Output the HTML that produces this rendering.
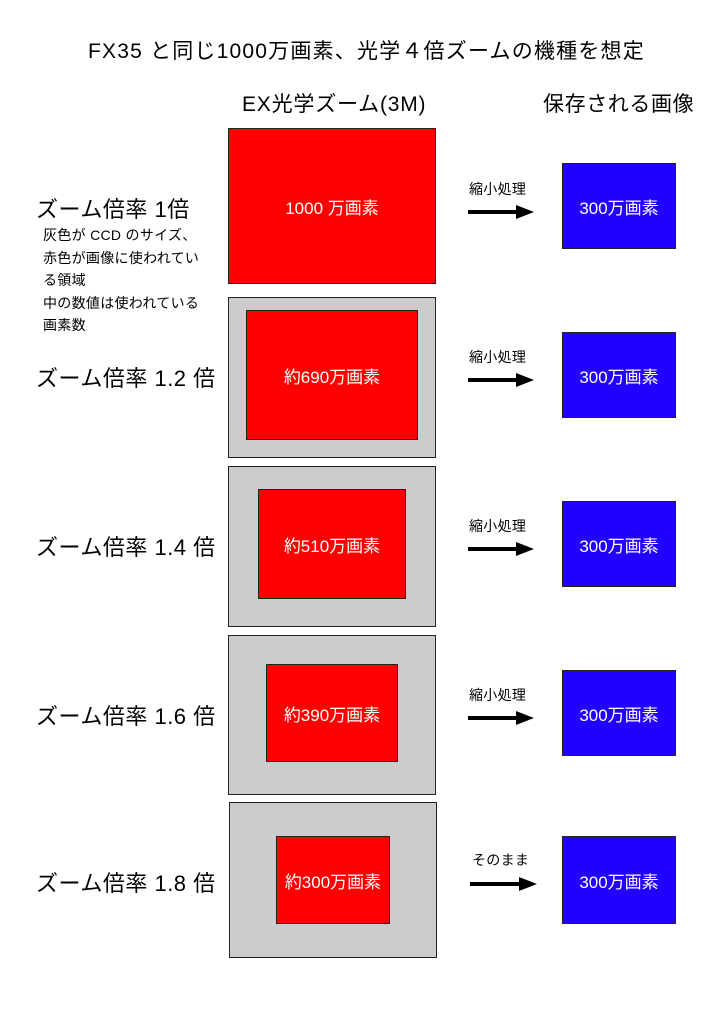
<!DOCTYPE html>
<html><head><meta charset="utf-8"><style>
body{margin:0;width:724px;height:1024px;background:#fff;position:relative;font-family:"Liberation Sans","Noto Sans CJK JP",sans-serif;overflow:hidden}
.a{position:absolute;white-space:nowrap}
.box{position:absolute;box-sizing:border-box;border:1.5px solid #222}
.g{background:#ccc}
.r{background:#f00;color:#fff;display:flex;align-items:center;justify-content:center;font-size:17px}
.b{background:#20f;color:#fff;display:flex;align-items:center;justify-content:center;font-size:17px}
.z{font-size:22px;color:#000;letter-spacing:0.5px}
.s{font-size:14px;letter-spacing:0.3px}
.line{position:absolute;height:4px;background:#000}
.head{position:absolute;width:0;height:0;border-top:7px solid transparent;border-bottom:7px solid transparent;border-left:18px solid #000}
</style></head><body>
<div class="a" style="left:88px;top:35px;font-size:21px;letter-spacing:1.2px">FX35 と同じ1000万画素、光学４倍ズームの機種を想定</div>
<div class="a" style="left:242px;top:88px;font-size:21px;letter-spacing:0.8px">EX光学ズーム(3M)</div>
<div class="a" style="left:543px;top:88px;font-size:21px;letter-spacing:0.6px">保存される画像</div>

<div class="box r" style="left:228px;top:128px;width:208px;height:156px">1000 万画素</div>
<div class="box b" style="left:562px;top:163px;width:114px;height:86px">300万画素</div>
<div class="a z" style="left:36px;top:192px">ズーム倍率 1倍</div>
<div class="a s" style="left:43px;top:224px;line-height:22.5px">灰色が CCD のサイズ、<br>赤色が画像に使われてい<br>る領域<br>中の数値は使われている<br>画素数</div>
<div class="a s" style="left:469px;top:179px">縮小処理</div>
<div class="line" style="left:468px;top:210px;width:50px"></div><div class="head" style="left:516px;top:205px"></div>

<div class="box g" style="left:228px;top:297px;width:208px;height:161px"></div>
<div class="box r" style="left:246px;top:310px;width:172px;height:130px">約690万画素</div>
<div class="box b" style="left:562px;top:332px;width:114px;height:86px">300万画素</div>
<div class="a z" style="left:36px;top:361px">ズーム倍率 1.2 倍</div>
<div class="a s" style="left:469px;top:347px">縮小処理</div>
<div class="line" style="left:468px;top:378px;width:50px"></div><div class="head" style="left:516px;top:373px"></div>

<div class="box g" style="left:228px;top:466px;width:208px;height:161px"></div>
<div class="box r" style="left:258px;top:489px;width:148px;height:110px">約510万画素</div>
<div class="box b" style="left:562px;top:501px;width:114px;height:86px">300万画素</div>
<div class="a z" style="left:36px;top:530px">ズーム倍率 1.4 倍</div>
<div class="a s" style="left:469px;top:516px">縮小処理</div>
<div class="line" style="left:468px;top:547px;width:50px"></div><div class="head" style="left:516px;top:542px"></div>

<div class="box g" style="left:228px;top:635px;width:208px;height:160px"></div>
<div class="box r" style="left:266px;top:664px;width:132px;height:98px">約390万画素</div>
<div class="box b" style="left:562px;top:670px;width:114px;height:86px">300万画素</div>
<div class="a z" style="left:36px;top:699px">ズーム倍率 1.6 倍</div>
<div class="a s" style="left:469px;top:685px">縮小処理</div>
<div class="line" style="left:468px;top:716px;width:50px"></div><div class="head" style="left:516px;top:711px"></div>

<div class="box g" style="left:229px;top:802px;width:208px;height:156px"></div>
<div class="box r" style="left:276px;top:836px;width:114px;height:88px">約300万画素</div>
<div class="box b" style="left:562px;top:836px;width:114px;height:88px">300万画素</div>
<div class="a z" style="left:36px;top:866px">ズーム倍率 1.8 倍</div>
<div class="a s" style="left:472px;top:850px">そのまま</div>
<div class="line" style="left:470px;top:882px;width:52px"></div><div class="head" style="left:519px;top:877px"></div>
</body></html>
